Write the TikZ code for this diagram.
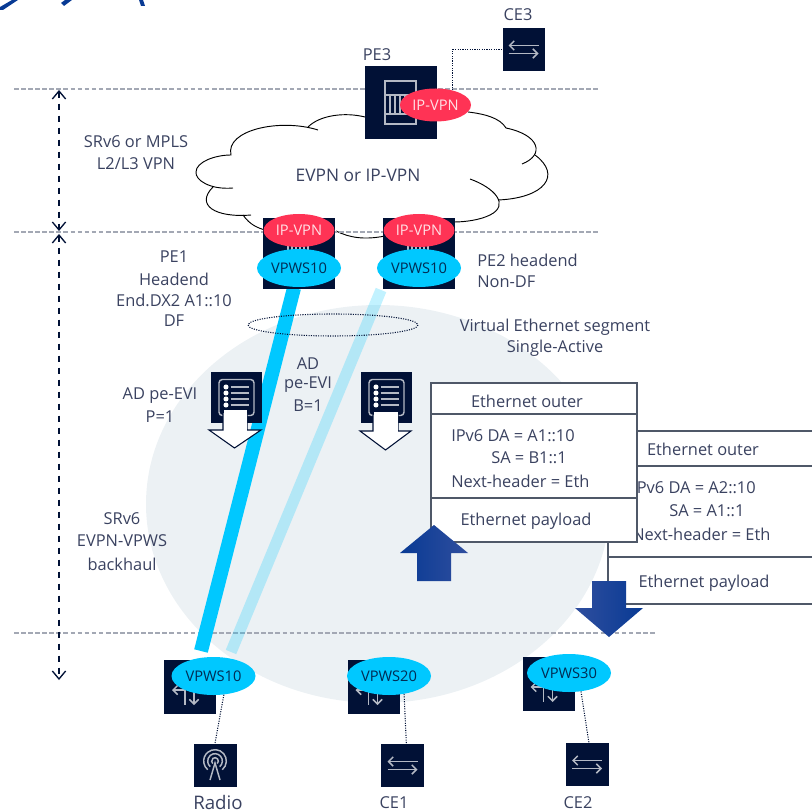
\documentclass[tikz,border=0pt]{standalone}
\usepackage{fontspec}
\setmainfont{Open Sans}
\usetikzlibrary{arrows.meta,shapes.geometric}

\definecolor{navybox}{HTML}{011136}
\definecolor{icongrey}{HTML}{B4B9C4}
\definecolor{labelink}{HTML}{3A4260}
\definecolor{dashgrey}{HTML}{A3A8B4}
\definecolor{redtag}{HTML}{FF3355}
\definecolor{bluetag}{HTML}{00C8FF}
\definecolor{segfill}{HTML}{ECF1F4}
\definecolor{framegrey}{HTML}{4F5868}
\definecolor{arrowblue}{HTML}{083A94}
\definecolor{arrowpale}{HTML}{2F4E9E}

\tikzset{
    every node/.style={text=labelink, font=\fontsize{12.3}{14}\selectfont, inner sep=0pt},
    devbox/.style={fill=navybox, minimum width=#1*.75pt, minimum height=43*.75pt},
    iptag/.style={ellipse, fill=redtag, minimum width=71*.75pt, minimum height=33*.75pt, text=white!85!redtag, font=\fontsize{11}{13}\selectfont},
    vpwstag/.style={ellipse, fill=bluetag, minimum width=84*.75pt, minimum height=38*.75pt, text=navybox!85!bluetag, font=\fontsize{11}{13}\selectfont},
    dashline/.style={dashgrey, line width=1.2pt, dash pattern=on 3.5pt off 1.8pt},
    tiedot/.style={navybox, densely dotted, line width=.8pt},
    spanarrow/.style={navybox, line width=1pt, dash pattern=on 5pt off 4pt, {Straight Barb[length=6pt,width=10pt]}-{Straight Barb[length=6pt,width=10pt]}},
    iconline/.style={icongrey, line width=1.1pt},
    iconarrow/.style={iconline, -{Straight Barb[length=3.5pt,width=7pt]}},
    packet/.style={draw=framegrey, fill=white, line width=1.2pt},
    adarrow/.style={draw=navybox, fill=white, line width=.8pt},
    swicon/.pic={
        \draw[iconarrow] (-5,3) -- (-18,3);
        \draw[iconline] (-5,3) -- (-5,18);
        \draw[iconarrow] (4,3) -- (4,18);
    },
    ceicon/.pic={
        \draw[iconarrow] (15,-4) -- (-15,-4);
        \draw[iconarrow] (-15,4) -- (15,4);
    },
    listicon/.pic={
        \draw[iconline, rounded corners=2.5pt] (-17.5,-18) rectangle (17.5,18);
        \foreach \rowy in {-10.5,-4.5,1.5,7.5} {
            \fill[white] (-10.5,\rowy) circle (1.9pt);
            \draw[iconline] (-6,\rowy) -- (12.5,\rowy);
        }
    },
    pepic/.pic={
        \foreach \tickx in {-11,-7,-3,1,5,9}
            \draw[iconline] (\tickx,-22) -- (\tickx,-18);
    }
}

\begin{document}
\begin{tikzpicture}[x=.75pt, y=-.75pt]
    \useasboundingbox (0,0) rectangle (811,812);

    % bits of the title cut off at the top
    \fill[arrowblue] (0,7) -- (12,0) -- (18,0) -- (3,10) -- (0,10) -- cycle;
    \fill[arrowblue] (61,3) -- (65,0) -- (72,0) -- (64,6) -- cycle;
    \fill[arrowblue] (139,0) -- (143,0) -- (145,6) -- (141,6) -- cycle;

    % segment
    \fill[segfill] (378,504) ellipse [x radius=232, y radius=199];

    % cloud
    \fill[white] (231,155) .. controls (190,160) and (185,185) .. (213,187)
        .. controls (195,205) and (215,218) .. (243,215)
        .. controls (250,225) and (258,228) .. (265,230)
        -- (336,231) .. controls (350,238) and (365,240) .. (385,236)
        -- (454,222) .. controls (490,222) and (505,208) .. (498,200)
        .. controls (545,198) and (565,175) .. (522,164)
        .. controls (545,155) and (540,135) .. (506,128)
        .. controls (500,118) and (485,114) .. (468,112)
        -- (365,117) .. controls (345,112) and (320,115) .. (308,127)
        .. controls (275,118) and (225,125) .. (231,155) -- cycle;
    \draw[black, line width=.7pt] (233,188) .. controls (210,190) and (195,180) .. (196,172)
        .. controls (196,162) and (215,155) .. (231,155)
        .. controls (225,130) and (280,118) .. (318,130);
    \draw[black, line width=.7pt] (308,127) .. controls (320,115) and (345,112) .. (365,117);
    \draw[black, line width=.7pt] (468,112) .. controls (485,114) and (500,118) .. (506,128)
        .. controls (540,135) and (545,155) .. (522,164);
    \draw[black, line width=.7pt] (535,155) .. controls (562,175) and (545,198) .. (498,200);
    \draw[black, line width=.7pt] (470,179) .. controls (495,188) and (510,205) .. (490,215)
        .. controls (480,220) and (465,222) .. (454,222);
    \draw[black, line width=.7pt] (213,187) .. controls (195,205) and (215,218) .. (251,215);
    \draw[black, line width=.7pt] (243,215) .. controls (250,225) and (258,228) .. (265,230);
    \draw[black, line width=.7pt] (336,231) .. controls (350,238) and (365,240) .. (385,236);

    % levels
    \draw[dashline] (14,89) -- (600,89);
    \draw[dashline] (14,232) -- (600,232);
    \draw[dashline] (14,633) -- (656,633);

    \coordinate (spantop) at (59,90);
    \coordinate (spanmid) at (59,231);
    \coordinate (spanlow) at (59,234);
    \coordinate (spanend) at (59,680);
    \draw[spanarrow] (spantop) -- (spanmid);
    \draw[spanarrow] (spanlow) -- (spanend);

    % backhaul
    \draw[bluetag, line width=10.5pt] (294,288) -- (201,651);
    \draw[bluetag, opacity=.24, line width=8.5pt] (381,290) -- (231,652);
    \draw[navybox, densely dotted, line width=.8pt] (333,325) ellipse [x radius=85, y radius=11];

    % PE3 and CE3
    \draw (401,102.5) node[devbox=72, minimum height=73*.75pt] (peth) {};
    \draw (523.5,49.5) node[devbox=42] (ceth) {};
    \draw[iconline] (385,81) rectangle (416,124);
    \foreach \barx in {390,395,400,405,410}
        \draw[iconline] (\barx,95) -- (\barx,114);
    \draw[iconline] (385,95) -- (416,95);
    \draw[iconline] (385,114) -- (416,114);
    \draw (435.5,105) node[iptag] (ipth) {IP-VPN};
    \draw[tiedot] (ipth.40) |- (ceth.west);
    \path (ceth.center) pic {ceicon};
    \draw (377,55) node (pethlab) {PE3};
    \draw (518,15) node (cethlab) {CE3};

    % PE1 and PE2
    \draw (299,253.5) node[devbox=72, minimum height=71*.75pt] (peone) {};
    \draw (419,253.5) node[devbox=72, minimum height=71*.75pt] (petwo) {};
    \path (299,268) pic {pepic};
    \path (419,268) pic {pepic};
    \draw (299,230.5) node[iptag] (ipone) {IP-VPN};
    \draw (419,230.5) node[iptag] (iptwo) {IP-VPN};
    \draw (299,268) node[vpwstag] (vpone) {VPWS10};
    \draw (419,268) node[vpwstag] (vptwo) {VPWS10};

    % route boxes
    \draw (236.5,397.5) node[devbox=51, minimum height=51*.75pt] (adone) {};
    \draw (386.5,397.5) node[devbox=51, minimum height=51*.75pt] (adtwo) {};
    \path (adone.center) pic {listicon};
    \path (adtwo.center) pic {listicon};
    \filldraw[adarrow] (223,413) -- (223,430) -- (209,430) -- (234.5,448) -- (261,430) -- (247,430) -- (247,413);
    \fill[white] (224,410) rectangle (246.5,431);
    \filldraw[adarrow] (373,415) -- (373,431) -- (360,431) -- (385.5,450) -- (411,431) -- (398,431) -- (398,415);
    \fill[white] (374,412) rectangle (397.5,432);

    % packets
    \filldraw[packet] (608,431) rectangle (830,466);
    \filldraw[packet] (608,466) rectangle (830,557);
    \filldraw[packet] (608,557) rectangle (830,604);
    \draw (703,449) node (pkbouter) {Ethernet outer};
    \draw (632,488) node[anchor=west] (pkbda) {IPv6 DA = A2::10};
    \draw (669,511) node[anchor=west] (pkbsa) {SA = A1::1};
    \draw (632,534) node[anchor=west] (pkbnext) {Next-header = Eth};
    \draw (704,583) node (pkbpay) {Ethernet payload};

    \filldraw[packet] (431,383) rectangle (637,414);
    \filldraw[packet] (431,414) rectangle (637,498);
    \filldraw[packet] (431,498) rectangle (637,542);
    \draw (527,401) node (pkaouter) {Ethernet outer};
    \draw (451,436) node[anchor=west] (pkada) {IPv6 DA = A1::10};
    \draw (491,458) node[anchor=west] (pkasa) {SA = B1::1};
    \draw (451,481) node[anchor=west] (pkanext) {Next-header = Eth};
    \draw (526,521) node (pkapay) {Ethernet payload};

    \shade[left color=arrowblue, right color=arrowpale] (434,525) -- (468,553) -- (451,553) -- (451,581) -- (417,581) -- (417,553) -- (400,553) -- cycle;
    \shade[left color=arrowpale, right color=arrowblue] (592,581) -- (626,581) -- (626,608) -- (643,608) -- (609,637) -- (575,608) -- (592,608) -- cycle;

    % access
    \draw (190,687) node[devbox=52, minimum height=54*.75pt] (swa) {};
    \draw (373.5,687) node[devbox=52, minimum height=54*.75pt] (swb) {};
    \draw (548.5,684) node[devbox=52, minimum height=54*.75pt] (swc) {};
    \path (swa.center) pic {swicon};
    \path (swb.center) pic {swicon};
    \path (swc.center) pic {swicon};
    \draw (213.5,676) node[vpwstag] (vpa) {VPWS10};
    \draw (389,676) node[vpwstag] (vpb) {VPWS20};
    \draw (569,673) node[vpwstag] (vpc) {VPWS30};

    \draw (215,765) node[devbox=43] (radio) {};
    \draw (402.5,765.5) node[devbox=43] (ceone) {};
    \draw (587,764.5) node[devbox=43] (cetwo) {};
    \path (ceone.center) pic {ceicon};
    \path (cetwo.center) pic {ceicon};
    \draw[tiedot] (vpa.-61) -- (radio.north);
    \draw[tiedot] (vpb.-50) -- (ceone.80);
    \draw[tiedot] (vpc.-57) -- (cetwo.85);

    \coordinate (radiotop) at (215,761);
    \foreach \arcr in {2.5,5.5,8.5}
        \draw[iconline] ([shift={(-50:\arcr pt)}]radiotop) arc[start angle=-50, end angle=230, radius=\arcr pt];
    \draw[iconline] (210,780) -- (215,763) -- (220,780);

    \draw (218,802) node[font=\fontsize{14}{16}\selectfont] (radiolab) {Radio};
    \draw (394,803) node (ceonelab) {CE1};
    \draw (578,803) node (cetwolab) {CE2};

    % labels
    \draw (136,142) node (vpnlaba) {SRv6 or MPLS};
    \draw (136,164) node (vpnlabb) {L2/L3 VPN};
    \draw (358,175) node[font=\fontsize{13}{15}\selectfont] (cloudlab) {EVPN or IP-VPN};

    \draw (174,257) node (pelaba) {PE1};
    \draw (174,279) node (pelabb) {Headend};
    \draw (174,300) node (pelabc) {End.DX2 A1::10};
    \draw (174,321) node (pelabd) {DF};
    \draw (477,260) node[anchor=west] (pelabe) {PE2 headend};
    \draw (477,282) node[anchor=west] (pelabf) {Non-DF};

    \draw (555,327) node (seglaba) {Virtual Ethernet segment};
    \draw (555,348) node (seglabb) {Single-Active};

    \draw (160,396) node (adlaba) {AD pe-EVI};
    \draw (160,417) node (adlabb) {P=1};
    \draw (308,364) node (adlabc) {AD};
    \draw (308,385) node (adlabd) {pe-EVI};
    \draw (308,406) node (adlabe) {B=1};

    \draw (122,519) node (hauldlaba) {SRv6};
    \draw (122,541) node (hauldlabb) {EVPN-VPWS};
    \draw (122,564) node (hauldlabc) {backhaul};
\end{tikzpicture}
\end{document}
